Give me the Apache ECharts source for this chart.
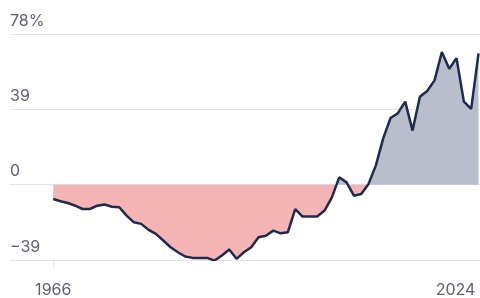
<!DOCTYPE html>
<html>
<head>
<meta charset="utf-8">
<script src="https://cdn.jsdelivr.net/npm/echarts@6/dist/echarts.min.js"></script>
<style>
  html, body { margin: 0; padding: 0; background: #fff; }
  #chart { width: 480px; height: 298px; }
</style>
</head>
<body>
<div id="chart"></div>
<script>
// years 1966..2024, one value per year (percent)
const years = [];
for (let y = 1966; y <= 2024; y++) years.push(y);
const values = [
  -7.4, -8.6, -9.5, -10.9, -12.6, -12.6, -10.9, -10.3, -11.4, -11.7,
  -16, -19.5, -20.3, -23.4, -25.5, -28.9, -32.4, -35, -37.2, -37.9,
  -37.9, -37.9, -39.3, -36.7, -33.6, -38.4, -35, -32.4, -27.2, -26.4,
  -23.8, -25.2, -24.6, -12.6, -16.5, -16.5, -16.5, -13.4, -6.6, 3.8,
  1.2, -5.7, -4.8, 0.4, 10, 24, 34.5, 37, 43, 28,
  45.5, 48.5, 54, 68.7, 60, 65.5, 43, 39.2, 68
];
const yTicks = [-39, 0, 39, 78];
const xLabels = [1966, 2024];

// 图表
const chart = echarts.init(document.getElementById('chart'));
const pts = years.map((y, i) => [y, values[i]]);
const labelColor = '#5f6070';

const option = {
  backgroundColor: '#fff',
  animation: false,
  grid: { left: 10, right: 0, top: 34, bottom: 38 },
  visualMap: {
    show: false,
    seriesIndex: 0,
    dimension: 1,
    pieces: [
      { min: -100, max: 0, color: '#f5b5b5' },
      { min: 0, max: 100, color: '#b9bdcc' },
    ],
  },
  xAxis: {
    type: 'value',
    min: 1960.1,
    max: 2024.2,
    axisLine: { show: false, onZero: false },
    splitLine: { show: false },
    axisTick: {
      show: true,
      customValues: [1966],
      length: 7,
      lineStyle: { color: '#e2e2ea' },
    },
    axisLabel: {
      customValues: xLabels,
      formatter: (v) => (v === 2024 ? '{r|2024}' : String(v)),
      color: labelColor,
      fontFamily: 'Inter',
      fontSize: 16,
      margin: 22,
      rich: {
        // shift the last label left so it ends at the chart edge
        r: { color: labelColor, fontFamily: 'Inter', fontSize: 16, padding: [0, 46, 0, 0] },
      },
    },
  },
  yAxis: {
    type: 'value',
    min: yTicks[0],
    max: yTicks[yTicks.length - 1],
    interval: 39,
    axisLine: { show: false },
    axisTick: { show: false },
    splitLine: { lineStyle: { color: '#e2e2ea', width: 1 } },
    axisLabel: {
      inside: true,
      margin: 0,
      verticalAlign: 'bottom',
      color: labelColor,
      fontFamily: 'Inter',
      fontSize: 16,
      lineHeight: 26,
      formatter: (v) => {
        if (v === 78) return '78%';
        if (v < 0) return '\u2212' + Math.abs(v);
        return String(v);
      },
    },
  },
  series: [
    {
      // fill only
      type: 'line',
      data: pts,
      showSymbol: false,
      lineStyle: { width: 0, opacity: 0 },
      areaStyle: { origin: 0, opacity: 1 },
      z: 1,
    },
    {
      type: 'line',
      data: pts,
      showSymbol: false,
      lineStyle: { color: '#1f2a4c', width: 2.5 },
      z: 3,
    },
  ],
};

chart.setOption(option);
</script>
</body>
</html>
